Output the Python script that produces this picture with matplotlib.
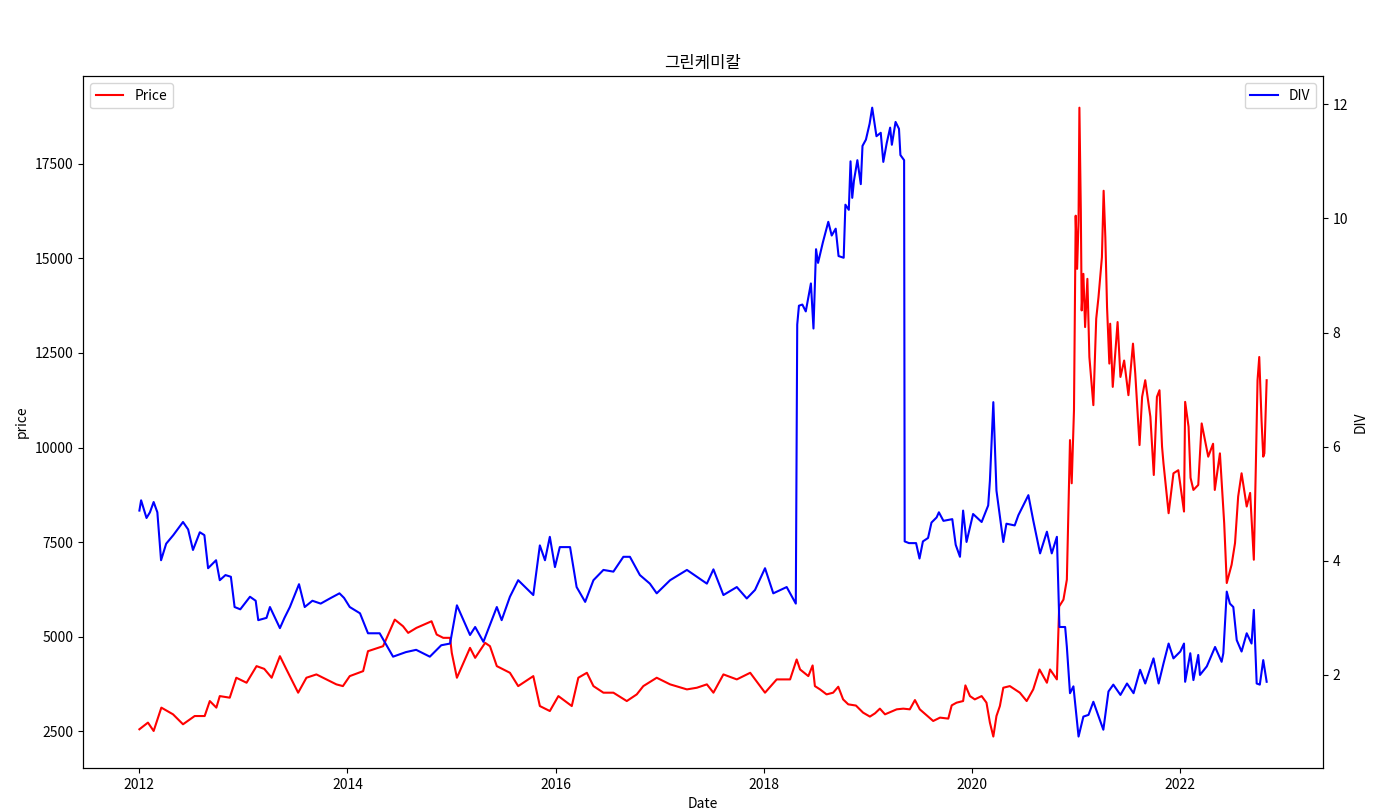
import matplotlib
matplotlib.use('Agg')
import matplotlib.pyplot as plt
import pandas as pd

plt.rcParams['font.family'] = ['Noto Sans CJK KR', 'DejaVu Sans']

# price series
price_dates = [
    '2012-01-02', '2012-02-01', '2012-02-21', '2012-03-19', '2012-04-29', '2012-06-03',
    '2012-07-14', '2012-08-18', '2012-09-05', '2012-09-28', '2012-10-10', '2012-11-14',
    '2012-12-07', '2013-01-12', '2013-02-16', '2013-03-15', '2013-04-10', '2013-05-09',
    '2013-06-01', '2013-07-12', '2013-08-10', '2013-09-14', '2013-10-19', '2013-11-23',
    '2013-12-16', '2014-01-09', '2014-02-25', '2014-03-14', '2014-05-06', '2014-06-16',
    '2014-07-15', '2014-08-02', '2014-08-31', '2014-10-23', '2014-11-10', '2014-12-03',
    '2014-12-27', '2015-01-02', '2015-01-20', '2015-03-07', '2015-03-25', '2015-04-29',
    '2015-05-16', '2015-06-09', '2015-07-25', '2015-08-23', '2015-10-15', '2015-11-07',
    '2015-12-12', '2016-01-11', '2016-02-27', '2016-03-21', '2016-04-20', '2016-05-13',
    '2016-06-17', '2016-07-22', '2016-09-07', '2016-10-12', '2016-11-04', '2016-12-21',
    '2017-02-06', '2017-04-06', '2017-05-11', '2017-06-15', '2017-07-08', '2017-08-12',
    '2017-09-28', '2017-11-14', '2018-01-05', '2018-02-15', '2018-04-03', '2018-04-26',
    '2018-05-08', '2018-06-06', '2018-06-21', '2018-06-29', '2018-07-17', '2018-08-09',
    '2018-09-01', '2018-09-19', '2018-10-06', '2018-10-24', '2018-11-20', '2018-12-15',
    '2019-01-08', '2019-01-26', '2019-02-12', '2019-03-02', '2019-04-12', '2019-05-05',
    '2019-05-28', '2019-06-15', '2019-07-02', '2019-07-26', '2019-08-18', '2019-09-11',
    '2019-10-10', '2019-10-22', '2019-11-08', '2019-12-01', '2019-12-09', '2019-12-25',
    '2020-01-11', '2020-02-04', '2020-02-21', '2020-03-04', '2020-03-16', '2020-03-27',
    '2020-04-08', '2020-04-20', '2020-05-13', '2020-06-17', '2020-07-11', '2020-08-03',
    '2020-08-25', '2020-09-20', '2020-10-01', '2020-10-25', '2020-11-02', '2020-11-17',
    '2020-11-29', '2020-12-05', '2020-12-10', '2020-12-16', '2020-12-24', '2020-12-30',
    '2021-01-04', '2021-01-09', '2021-01-12', '2021-01-17', '2021-01-20', '2021-01-26',
    '2021-02-01', '2021-02-09', '2021-02-16', '2021-03-02', '2021-03-12', '2021-03-20',
    '2021-04-01', '2021-04-07', '2021-04-13', '2021-04-19', '2021-04-27', '2021-04-30',
    '2021-05-09', '2021-05-26', '2021-06-05', '2021-06-18', '2021-07-03', '2021-07-19',
    '2021-07-27', '2021-08-11', '2021-08-20', '2021-08-31', '2021-09-18', '2021-09-30',
    '2021-10-11', '2021-10-20', '2021-10-29', '2021-11-03', '2021-11-21', '2021-12-08',
    '2021-12-25', '2022-01-14', '2022-01-18', '2022-01-30', '2022-02-06', '2022-02-16',
    '2022-03-05', '2022-03-17', '2022-04-09', '2022-04-26', '2022-05-02', '2022-05-20',
    '2022-06-04', '2022-06-13', '2022-06-30', '2022-07-12', '2022-07-23', '2022-08-04',
    '2022-08-22', '2022-09-03', '2022-09-16', '2022-09-23', '2022-09-29', '2022-10-05',
    '2022-10-13', '2022-10-19', '2022-10-23', '2022-10-31',
]
price_values = [
    2553, 2729, 2508, 3125, 2948, 2685,
    2903, 2903, 3299, 3125, 3430, 3388,
    3915, 3783, 4222, 4150, 3915, 4485,
    4134, 3520, 3915, 4003, 3870, 3740,
    3694, 3958, 4090, 4617, 4749, 5452,
    5276, 5101, 5233, 5408, 5057, 4970,
    4970, 4572, 3915, 4705, 4441, 4837,
    4749, 4222, 4046, 3694, 3958, 3167,
    3035, 3430, 3167, 3915, 4046, 3694,
    3520, 3520, 3299, 3475, 3694, 3915,
    3740, 3607, 3651, 3740, 3520, 4003,
    3871, 4046, 3520, 3871, 3871, 4398,
    4134, 3958, 4240, 3694, 3607, 3475,
    3520, 3677, 3343, 3212, 3180, 2993,
    2888, 2975, 3098, 2948, 3080, 3098,
    3080, 3325, 3080, 2922, 2772, 2861,
    2835, 3185, 3256, 3299, 3713, 3430,
    3343, 3430, 3256, 2729, 2360, 2903,
    3167, 3651, 3694, 3520, 3299, 3607,
    4134, 3783, 4134, 3871, 5800, 5979,
    6507, 8528, 10197, 9055, 10988, 16128,
    14723, 16000, 18983, 16260, 13624, 14591,
    13184, 14459, 12393, 11120, 13405, 13975,
    15029, 16787, 15556, 13712, 12219, 13273,
    11603, 13317, 11866, 12300, 11384, 12746,
    11955, 10065, 11339, 11779, 10812, 9274,
    11339, 11515, 10021, 9582, 8264, 9319,
    9400, 8308, 11207, 10549, 9200, 8879,
    9011, 10637, 9758, 10100, 8879, 9846,
    8001, 6419, 6902, 7474, 8703, 9319,
    8440, 8800, 7034, 9494, 11779, 12393,
    10724, 9758, 9846, 11779,
]

# DIV series
div_dates = [
    '2012-01-02', '2012-01-08', '2012-01-27', '2012-02-08', '2012-02-21', '2012-03-05',
    '2012-03-18', '2012-04-05', '2012-04-30', '2012-06-03', '2012-06-21', '2012-07-08',
    '2012-08-01', '2012-08-17', '2012-08-30', '2012-09-27', '2012-10-10', '2012-10-30',
    '2012-11-18', '2012-12-01', '2012-12-21', '2013-01-24', '2013-02-13', '2013-02-22',
    '2013-03-23', '2013-04-04', '2013-05-09', '2013-05-25', '2013-06-13', '2013-07-15',
    '2013-08-04', '2013-08-31', '2013-09-29', '2013-11-04', '2013-12-04', '2013-12-20',
    '2014-01-09', '2014-02-14', '2014-03-14', '2014-04-24', '2014-06-10', '2014-07-25',
    '2014-08-30', '2014-10-17', '2014-11-26', '2014-12-27', '2015-01-20', '2015-02-12',
    '2015-03-07', '2015-03-25', '2015-04-23', '2015-06-09', '2015-06-26', '2015-07-25',
    '2015-08-23', '2015-10-15', '2015-11-07', '2015-11-25', '2015-12-12', '2015-12-30',
    '2016-01-16', '2016-02-21', '2016-03-15', '2016-04-14', '2016-05-13', '2016-06-17',
    '2016-07-22', '2016-08-26', '2016-09-18', '2016-10-23', '2016-11-27', '2016-12-21',
    '2017-02-06', '2017-04-06', '2017-05-11', '2017-06-15', '2017-07-08', '2017-08-12',
    '2017-09-28', '2017-11-02', '2017-12-01', '2018-01-05', '2018-02-03', '2018-03-22',
    '2018-04-23', '2018-04-28', '2018-05-04', '2018-05-16', '2018-05-28', '2018-06-15',
    '2018-06-24', '2018-07-03', '2018-07-10', '2018-07-27', '2018-08-15', '2018-08-27',
    '2018-09-10', '2018-09-20', '2018-10-08', '2018-10-14', '2018-10-26', '2018-11-01',
    '2018-11-07', '2018-11-13', '2018-11-25', '2018-12-07', '2018-12-13', '2018-12-25',
    '2019-01-07', '2019-01-16', '2019-01-31', '2019-02-15', '2019-02-24', '2019-03-08',
    '2019-03-20', '2019-03-26', '2019-04-08', '2019-04-20', '2019-04-25', '2019-05-08',
    '2019-05-10', '2019-05-25', '2019-06-19', '2019-07-01', '2019-07-13', '2019-07-31',
    '2019-08-12', '2019-08-30', '2019-09-07', '2019-09-23', '2019-10-24', '2019-11-05',
    '2019-11-20', '2019-12-01', '2019-12-13', '2020-01-05', '2020-02-04', '2020-02-27',
    '2020-03-04', '2020-03-16', '2020-03-27', '2020-04-20', '2020-05-01', '2020-05-30',
    '2020-06-12', '2020-07-17', '2020-08-03', '2020-08-27', '2020-09-20', '2020-10-07',
    '2020-10-25', '2020-11-03', '2020-11-23', '2020-11-29', '2020-12-10', '2020-12-22',
    '2021-01-09', '2021-01-26', '2021-02-13', '2021-03-02', '2021-04-06', '2021-04-24',
    '2021-05-11', '2021-06-05', '2021-06-28', '2021-07-21', '2021-08-13', '2021-08-31',
    '2021-09-29', '2021-10-17', '2021-11-03', '2021-11-21', '2021-12-08', '2022-01-01',
    '2022-01-14', '2022-01-18', '2022-02-05', '2022-02-16', '2022-03-05', '2022-03-11',
    '2022-04-04', '2022-05-03', '2022-05-26', '2022-06-01', '2022-06-13', '2022-06-24',
    '2022-07-06', '2022-07-18', '2022-08-04', '2022-08-22', '2022-09-08', '2022-09-16',
    '2022-09-26', '2022-10-07', '2022-10-19', '2022-10-31',
]
div_values = [
    4.88, 5.06, 4.75, 4.85, 5.03, 4.85,
    4.01, 4.30, 4.45, 4.68, 4.55, 4.19,
    4.50, 4.45, 3.87, 4.01, 3.66, 3.75,
    3.72, 3.19, 3.15, 3.37, 3.30, 2.96,
    3.00, 3.19, 2.82, 3.00, 3.19, 3.59,
    3.19, 3.30, 3.25, 3.35, 3.43, 3.35,
    3.19, 3.08, 2.73, 2.73, 2.32, 2.40,
    2.44, 2.32, 2.52, 2.55, 3.22, 2.96,
    2.70, 2.84, 2.58, 3.19, 2.96, 3.37,
    3.66, 3.40, 4.27, 4.01, 4.42, 3.89,
    4.24, 4.24, 3.54, 3.28, 3.66, 3.84,
    3.81, 4.07, 4.07, 3.75, 3.60, 3.43,
    3.66, 3.84, 3.72, 3.60, 3.85, 3.40,
    3.54, 3.34, 3.49, 3.87, 3.43, 3.54,
    3.25, 8.14, 8.47, 8.49, 8.37, 8.86,
    8.07, 9.46, 9.22, 9.58, 9.94, 9.70,
    9.82, 9.34, 9.31, 10.24, 10.15, 11.00,
    10.36, 10.66, 11.02, 10.60, 11.27, 11.38,
    11.66, 11.94, 11.44, 11.50, 10.99, 11.32,
    11.59, 11.29, 11.69, 11.57, 11.11, 11.02,
    4.34, 4.31, 4.31, 4.04, 4.34, 4.40,
    4.67, 4.76, 4.85, 4.70, 4.73, 4.28,
    4.07, 4.88, 4.33, 4.82, 4.68, 4.97,
    5.40, 6.78, 5.23, 4.33, 4.65, 4.62,
    4.80, 5.15, 4.71, 4.13, 4.51, 4.13,
    4.42, 2.84, 2.84, 2.49, 1.68, 1.80,
    0.92, 1.27, 1.30, 1.53, 1.04, 1.71,
    1.83, 1.65, 1.85, 1.68, 2.09, 1.85,
    2.29, 1.85, 2.20, 2.55, 2.29, 2.41,
    2.55, 1.88, 2.38, 1.91, 2.35, 2.00,
    2.15, 2.49, 2.23, 2.38, 3.46, 3.25,
    3.19, 2.61, 2.41, 2.73, 2.55, 3.14,
    1.85, 1.83, 2.26, 1.88,
]

price_x = pd.to_datetime(price_dates)
div_x = pd.to_datetime(div_dates)

fig, ax1 = plt.subplots(figsize=(13.77, 8.11), dpi=100)
fig.subplots_adjust(left=0.0603, right=0.9608, bottom=0.053, top=0.906)

ax1.plot(price_x, price_values, color='red', label='Price')
ax1.set_xlabel('Date')
ax1.set_ylabel('price')
ax1.legend(loc='upper left')

ax2 = ax1.twinx()
ax2.plot(div_x, div_values, color='blue', label='DIV')
ax2.set_ylabel('DIV')
ax2.legend(loc='upper right')

plt.title('그린케미칼')
plt.savefig('out.png')
